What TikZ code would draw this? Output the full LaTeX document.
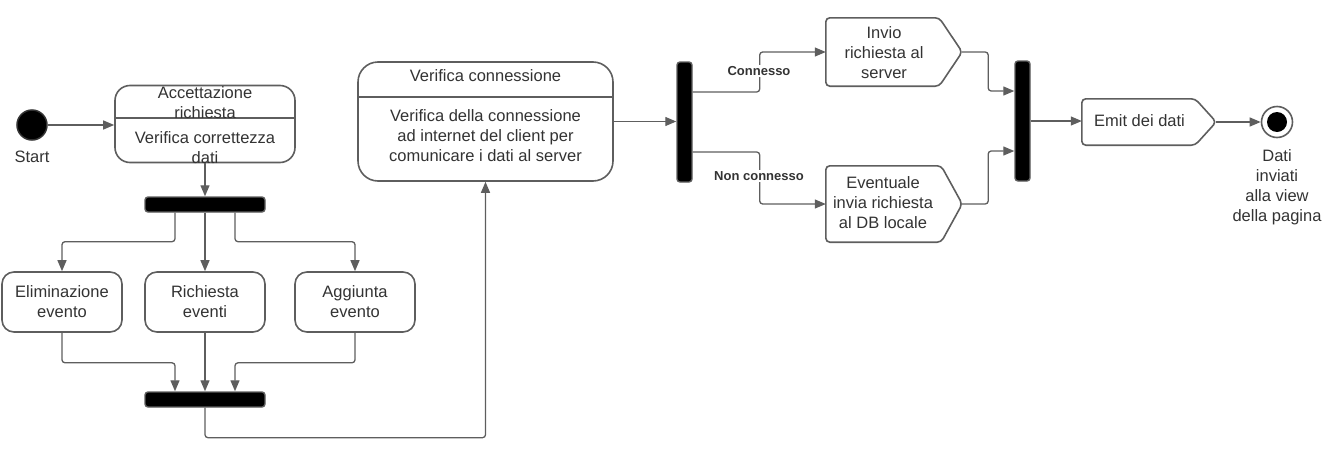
\documentclass[tikz,border=0pt]{standalone}
\usepackage{fontspec}
\setmainfont{Liberation Sans}
\usetikzlibrary{arrows.meta,calc}
\definecolor{linec}{HTML}{5E5E5E}
\definecolor{txtc}{HTML}{333333}
\begin{document}
\begin{tikzpicture}[x=1pt,y=-1pt,
 every node/.style={font=\fontsize{16.5}{20}\selectfont, text=txtc, align=center, inner sep=0pt},
 state/.style={draw=linec, line width=1.6pt, fill=white, rounded corners=12pt},
 bar/.style={draw=linec, fill=black, line width=1.4pt, rounded corners=3pt},
 arr/.style={draw=linec, line width=1.3pt, -{Triangle[length=11pt,width=9pt]}, rounded corners=3pt},
 lbl/.style={font=\fontsize{13}{15}\selectfont\bfseries, fill=white, inner sep=1pt},
 sig/.style={draw=linec, line width=1.6pt, fill=white, rounded corners=4pt},
 divider/.style={draw=linec, line width=1.6pt}
]
\useasboundingbox (0,0) rectangle (1327,450);

% start
\node[circle, fill=black, draw=txtc, line width=1.5pt, minimum size=30pt] (start) at (32,125) {};
\node (startl) at (32,157) {Start};

% Accettazione richiesta
\node[state, rounded corners=15pt, minimum width=180pt, minimum height=77pt] (acc) at (205,124) {};
\draw[divider] (115,118) -- (295,118);
\node (acct) at (205,103) {Accettazione\\richiesta};
\node (accb) at (205,148) {Verifica correttezza\\dati};

% fork bar 1
\node[bar, minimum width=120pt, minimum height=15pt] (f1) at (205,204.5) {};

% three actions
\node[state, minimum width=120pt, minimum height=60pt] (elim) at (62,302) {Eliminazione\\evento};
\node[state, minimum width=120pt, minimum height=60pt] (rich) at (205,302) {Richiesta\\eventi};
\node[state, minimum width=120pt, minimum height=60pt] (agg) at (355,302) {Aggiunta\\evento};

% join bar 2
\node[bar, minimum width=120pt, minimum height=15pt] (f2) at (205,399.5) {};

% Verifica connessione
\node[state, rounded corners=20pt, minimum width=255pt, minimum height=119pt] (ver) at (485.5,121.5) {};
\draw[divider] (358,97) -- (613,97);
\node (vert) at (485.5,76) {Verifica connessione};
\node (verb) at (485.5,135.5) {Verifica della connessione\\ad internet del client per\\comunicare i dati al server};

% fork bar 3
\node[bar, minimum width=15pt, minimum height=120pt] (f3) at (684.5,122) {};

% Invio richiesta
\node[minimum width=136pt, minimum height=68pt] (inv) at (894,52) {};
\draw[sig] (inv.east) -- ($(inv.north east)+(-23,0)$) -- (inv.north west) -- (inv.south west) -- ($(inv.south east)+(-23,0)$) -- cycle;
\node (invt) at (884,53) {Invio\\richiesta al\\server};

% Eventuale
\node[minimum width=136pt, minimum height=76pt] (eve) at (894,204) {};
\draw[sig] (eve.east) -- ($(eve.north east)+(-21,0)$) -- (eve.north west) -- (eve.south west) -- ($(eve.south east)+(-21,0)$) -- cycle;
\node (evet) at (883,203) {Eventuale\\invia richiesta\\al DB locale};

% join bar 4
\node[bar, minimum width=15pt, minimum height=120pt] (f4) at (1022.5,121) {};

% Emit
\node[minimum width=134pt, minimum height=46pt] (emit) at (1149,122) {};
\draw[sig] (emit.east) -- ($(emit.north east)+(-21,0)$) -- (emit.north west) -- (emit.south west) -- ($(emit.south east)+(-21,0)$) -- cycle;
\node (emitt) at (1139.5,121) {Emit dei dati};

% end
\node[circle, draw=linec, fill=white, line width=1.6pt, minimum size=31pt] (end) at (1277,122) {};
\node[circle, fill=black, minimum size=20pt] (endin) at (end) {};
\node (endl) at (1277,187) {Dati\\inviati\\alla view\\della pagina};

% connectors
\draw[arr] (start.east) -- (start.east -| acc.west);
\draw[arr] (acc.south) -- (f1.north);
\draw[arr] ($(f1.south)+(-30,0)$) -- ++(0,29) -| (elim.north);
\draw[arr] (f1.south) -- (rich.north);
\draw[arr] ($(f1.south)+(30,0)$) -- ++(0,29) -| (agg.north);
\draw[arr] (elim.south) -- ++(0,30) -| ($(f2.north)+(-30,0)$);
\draw[arr] (rich.south) -- (f2.north);
\draw[arr] (agg.south) -- ++(0,30) -| ($(f2.north)+(30,0)$);
\draw[arr] (f2.south) -- ++(0,30) -| (ver.south);
\draw[arr] (ver.east) -- (ver.east -| f3.west);
\draw[arr] ($(f3.east)+(0,-30)$) -- ++(67,0) |- (inv.west);
\draw[arr] ($(f3.east)+(0,30)$) -- ++(67,0) |- (eve.west);
\draw[arr] (inv.east) -- ++(26,0) |- ($(f4.west)+(0,-30)$);
\draw[arr] (eve.east) -- ++(26,0) |- ($(f4.west)+(0,30)$);
\draw[arr] (f4.east) -- (f4.east -| emit.west);
\draw[arr] (emit.east) -- (end.west);

% labels
\node[lbl] (lc) at (759,71) {Connesso};
\node[lbl] (lnc) at (759,176) {Non connesso};
\end{tikzpicture}
\end{document}
